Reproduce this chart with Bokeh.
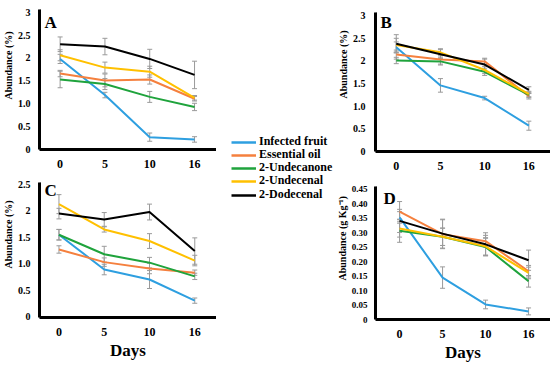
from bokeh.plotting import figure
from bokeh.models import (Range1d, FixedTicker, ColumnDataSource, Label,
                          Legend, LegendItem, Title, Span)
from bokeh.layouts import row, column
from bokeh.embed import file_html
from bokeh.resources import INLINE

# ---------------- data ----------------
days = ["0", "5", "10", "16"]
series_names = ["Infected fruit", "Essential oil", "2-Undecanone", "2-Undecenal", "2-Dodecenal"]
series_colors = ["#2e9fe0", "#f5803e", "#1fa33c", "#ffc000", "#000000"]

# Panel A (%)
a_infected = [1.98, 1.19, 0.27, 0.22]
a_essential = [1.66, 1.51, 1.53, 1.11]
a_undecanone = [1.53, 1.43, 1.15, 0.93]
a_undecenal = [2.06, 1.79, 1.70, 1.13]
a_dodecenal = [2.30, 2.25, 1.98, 1.63]
a_err_infected = [0.10, 0.06, 0.09, 0.06]
a_err_essential = [0.07, 0.14, 0.10, 0.05]
a_err_undecanone = [0.18, 0.12, 0.12, 0.08]
a_err_undecenal = [0.12, 0.12, 0.12, 0.05]
a_err_dodecenal = [0.16, 0.18, 0.21, 0.30]

# Panel B (%)
b_infected = [2.30, 1.46, 1.18, 0.57]
b_essential = [2.14, 2.03, 1.99, 1.22]
b_undecanone = [2.01, 1.99, 1.76, 1.25]
b_undecenal = [2.35, 2.19, 1.80, 1.27]
b_dodecenal = [2.38, 2.15, 1.92, 1.36]
b_err_infected = [0.12, 0.15, 0.04, 0.10]
b_err_essential = [0.10, 0.10, 0.07, 0.06]
b_err_undecanone = [0.07, 0.08, 0.08, 0.06]
b_err_undecenal = [0.15, 0.08, 0.08, 0.06]
b_err_dodecenal = [0.20, 0.10, 0.12, 0.07]

# Panel C (%)
c_infected = [1.55, 0.89, 0.70, 0.30]
c_essential = [1.27, 1.03, 0.91, 0.83]
c_undecanone = [1.55, 1.18, 1.02, 0.76]
c_undecenal = [2.13, 1.65, 1.43, 1.06]
c_dodecenal = [1.95, 1.84, 1.98, 1.24]
c_err_infected = [0.10, 0.10, 0.17, 0.05]
c_err_essential = [0.07, 0.08, 0.10, 0.05]
c_err_undecanone = [0.10, 0.15, 0.10, 0.06]
c_err_undecenal = [0.18, 0.05, 0.14, 0.10]
c_err_dodecenal = [0.10, 0.13, 0.15, 0.25]

# Panel D (g Kg-1)
d_infected = [0.353, 0.145, 0.052, 0.028]
d_essential = [0.373, 0.295, 0.271, 0.167]
d_undecanone = [0.307, 0.286, 0.251, 0.132]
d_undecenal = [0.315, 0.286, 0.253, 0.161]
d_dodecenal = [0.341, 0.297, 0.260, 0.205]
d_err_infected = [0.020, 0.037, 0.015, 0.012]
d_err_essential = [0.035, 0.050, 0.020, 0.020]
d_err_undecanone = [0.040, 0.030, 0.030, 0.020]
d_err_undecenal = [0.030, 0.030, 0.030, 0.020]
d_err_dodecenal = [0.040, 0.050, 0.040, 0.035]

pct_ticks = [0, 0.5, 1, 1.5, 2, 2.5, 3]
pct_tick_labels = ["0", "0.5", "1.0", "1.5", "2", "2.5", "3"]
c_ticks = [0, 0.5, 1, 1.5, 2, 2.5]
c_tick_labels = ["0", "0.5", "1.0", "1.5", "2", "2.5"]
d_ticks = [0, 0.05, 0.10, 0.15, 0.20, 0.25, 0.30, 0.35, 0.40, 0.45]
d_tick_labels = ["0", "0.05", "0.10", "0.15", "0.20", "0.25", "0.30", "0.35", "0.40", "0.45"]

FONT = "Liberation Serif"
ERR = "#9a9a9a"


def make_panel(letter, ylabel, vals, errs, yticks, ylabels, xr, yr, w, h,
               mbl, mbt, mbb, y_standoff, x_standoff, letter_pos, ylab_offset,
               ytick_size="10px", xlabel=None):
    p = figure(width=w, height=h, x_range=Range1d(*xr), y_range=Range1d(*yr),
               toolbar_location=None, output_backend="svg",
               min_border_left=mbl, min_border_right=0,
               min_border_top=mbt, min_border_bottom=mbb)
    p.outline_line_color = None
    p.xgrid.visible = False
    p.ygrid.visible = False
    idx = list(range(len(days)))
    sources = []
    for v, e in zip(vals, errs):
        sources.append(ColumnDataSource(dict(x=idx, y=v,
                                             upper=[a + b for a, b in zip(v, e)],
                                             lower=[a - b for a, b in zip(v, e)])))
    # error bars (drawn first, underneath the lines)
    for src in sources:
        p.segment(x0="x", y0="lower", x1="x", y1="upper", source=src,
                  line_color=ERR, line_width=1)
        p.scatter(x="x", y="upper", source=src, marker="dash", size=5,
                  line_color=ERR, line_width=1)
        p.scatter(x="x", y="lower", source=src, marker="dash", size=5,
                  line_color=ERR, line_width=1)
    for col, src in zip(series_colors, sources):
        p.line("x", "y", source=src, line_color=col, line_width=2)
    # heavy axis rules along the frame edges (left and bottom)
    p.add_layout(Span(location=xr[0], dimension="height", line_color="black", line_width=3))
    p.add_layout(Span(location=yr[0], dimension="width", line_color="black", line_width=3))
    for ax in (p.xaxis[0], p.yaxis[0]):
        ax.axis_line_width = 3
        ax.axis_line_color = "black"
        ax.major_tick_line_color = None
        ax.minor_tick_line_color = None
        ax.major_label_text_font = FONT
        ax.major_label_text_font_style = "bold"
        ax.major_label_text_color = "black"
    p.xaxis.ticker = FixedTicker(ticks=idx)
    p.xaxis.major_label_overrides = {i: d for i, d in zip(idx, days)}
    p.xaxis.major_label_text_font_size = "12px"
    p.xaxis.major_label_standoff = x_standoff
    p.yaxis.ticker = FixedTicker(ticks=yticks)
    p.yaxis.major_label_overrides = {t: s for t, s in zip(yticks, ylabels)}
    p.yaxis.major_label_text_font_size = ytick_size
    p.yaxis.major_label_standoff = y_standoff
    p.add_layout(Title(text=ylabel, align="left", offset=ylab_offset, standoff=1,
                       text_font=FONT, text_font_style="bold", text_font_size="10px",
                       text_color="black"), "left")
    if xlabel:
        p.xaxis.axis_label = xlabel
        p.xaxis.axis_label_text_font = FONT
        p.xaxis.axis_label_text_font_style = "bold"
        p.xaxis.axis_label_text_font_size = "17px"
        p.xaxis.axis_label_standoff = 2
        p.xaxis.axis_label_text_color = "black"
    p.add_layout(Label(x=letter_pos[0], y=letter_pos[1], x_units="screen", y_units="screen",
                       text=letter, text_align="left", text_baseline="top",
                       text_font=FONT, text_font_style="bold", text_font_size="17px",
                       text_color="black"))
    return p


pA = make_panel("A", "Abundance (%)",
                [a_infected, a_essential, a_undecanone, a_undecenal, a_dodecenal],
                [a_err_infected, a_err_essential, a_err_undecanone, a_err_undecenal, a_err_dodecenal],
                pct_ticks, pct_tick_labels, (-0.46, 3.49), (0, 3.06), 216, 173,
                37, 9, 24, 3, 4, (5, 137), 50)
pB = make_panel("B", "Abundance (%)",
                [b_infected, b_essential, b_undecanone, b_undecenal, b_dodecenal],
                [b_err_infected, b_err_essential, b_err_undecanone, b_err_undecenal, b_err_dodecenal],
                pct_ticks, pct_tick_labels, (-0.47, 3.49), (0, 3.07), 216, 173,
                38, 12, 22, 4, 4, (5, 139), 53)
pC = make_panel("C", "Abundance (%)",
                [c_infected, c_essential, c_undecanone, c_undecenal, c_dodecenal],
                [c_err_infected, c_err_essential, c_err_undecanone, c_err_undecenal, c_err_dodecenal],
                c_ticks, c_tick_labels, (-0.43, 3.48), (-0.02, 2.54), 216, 196,
                35, 9, 52, 3, 4, (5, 137), 49, xlabel="Days")
pD = make_panel("D", "Abundance (g Kg\u207b\u00b9)",
                [d_infected, d_essential, d_undecanone, d_undecenal, d_dodecenal],
                [d_err_infected, d_err_essential, d_err_undecanone, d_err_undecenal, d_err_dodecenal],
                d_ticks, d_tick_labels, (-0.56, 3.51), (0, 0.46), 216, 196,
                34, 13, 50, 2, 4, (8, 131), 39, ytick_size="9px", xlabel="Days")

# legend figure: one single-entry legend per series
leg = figure(width=118, height=369, x_range=Range1d(0, 1), y_range=Range1d(0, 1),
             x_axis_type=None, y_axis_type=None, toolbar_location=None,
             output_backend="svg", min_border=0)
leg.outline_line_color = None
leg.xgrid.visible = False
leg.ygrid.visible = False
LEG_TOP = 220.5
LEG_STEP = 13.3
for i, (name, col) in enumerate(zip(series_names, series_colors)):
    r = leg.line(x=[float("nan")], y=[float("nan")], line_color=col, line_width=2.5)
    lg = Legend(items=[LegendItem(label=name, renderers=[r])],
                location=(15, round(LEG_TOP - LEG_STEP * i)),
                glyph_width=25, glyph_height=12, label_height=12, spacing=0,
                padding=0, margin=0, border_line_color=None, background_fill_alpha=0,
                label_text_font=FONT, label_text_font_style="bold",
                label_text_font_size="12px", label_standoff=3, label_text_color="black")
    leg.add_layout(lg)

layout = row(column(pA, pC), leg, column(pB, pD))
open("out.html", "w").write(file_html(layout, INLINE))
